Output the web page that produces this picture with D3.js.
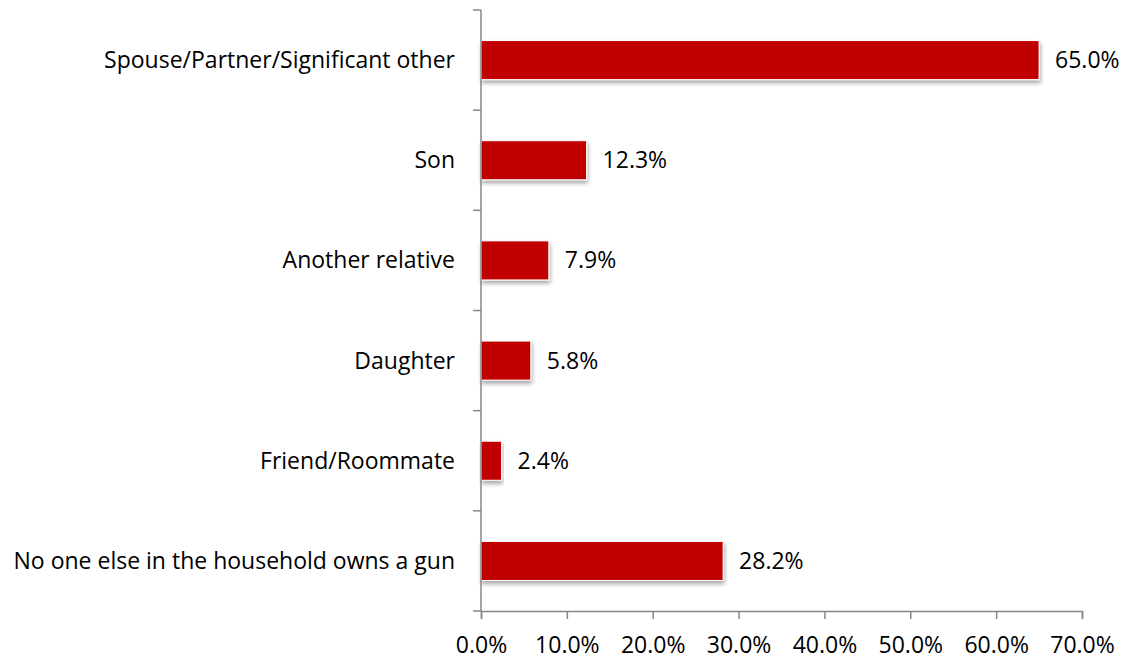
<!DOCTYPE html>
<html>
<head>
<meta charset="utf-8">
<script src="https://cdn.jsdelivr.net/npm/d3@7"></script>
<style>
  html, body { margin: 0; padding: 0; background: #fff; }
  svg text { font-family: "Open Sans", "Noto Sans", sans-serif; fill: #000; }
</style>
</head>
<body>
<svg id="chart" width="1125" height="660"></svg>
<script>
// Who else in the household owns a gun (share of respondents)
const categories = [
  "Spouse/Partner/Significant other",
  "Son",
  "Another relative",
  "Daughter",
  "Friend/Roommate",
  "No one else in the household owns a gun"
];
const values = [65.0, 12.3, 7.9, 5.8, 2.4, 28.2];
const tickValues = [0, 10, 20, 30, 40, 50, 60, 70];

const svg = d3.select("#chart");
const margin = { left: 481, right: 43, top: 10, bottom: 49 };
const width = 1125, height = 660;
const fontSize = 23;

const x = d3.scaleLinear().domain([0, 70]).range([margin.left, width - margin.right]);
const y = d3.scaleBand().domain(categories).range([margin.top, height - margin.bottom]).paddingInner(0.61).paddingOuter(0.305);

// soft shadow under each bar
const defs = svg.append("defs");
const f = defs.append("filter").attr("id", "shadow").attr("x", "-5%").attr("y", "-30%").attr("width", "115%").attr("height", "180%");
f.append("feDropShadow").attr("dx", 1).attr("dy", 3).attr("stdDeviation", 2).attr("flood-color", "#000").attr("flood-opacity", 0.35);

const data = categories.map((c, i) => ({ c, v: values[i] }));

svg.append("g").selectAll("rect").data(data).join("rect")
  .attr("x", x(0))
  .attr("y", d => y(d.c))
  .attr("width", d => x(d.v) - x(0))
  .attr("height", y.bandwidth())
  .attr("fill", "#C00000")
  .attr("stroke", "#fff")
  .attr("stroke-width", 1)
  .attr("filter", "url(#shadow)");

// value labels
svg.append("g").selectAll("text").data(data).join("text")
  .attr("x", d => x(d.v) + 16)
  .attr("y", d => y(d.c) + y.bandwidth() / 2)
  .attr("dy", "0.35em")
  .attr("font-size", fontSize)
  .text(d => d.v.toFixed(1) + "%");

// category labels
svg.append("g").selectAll("text").data(data).join("text")
  .attr("x", x(0) - 26)
  .attr("y", d => y(d.c) + y.bandwidth() / 2)
  .attr("dy", "0.35em")
  .attr("text-anchor", "end")
  .attr("font-size", fontSize)
  .text(d => d.c);

// vertical category axis with ticks on band boundaries
const axisColor = "#868686";
const yTop = margin.top, yBottom = height - margin.bottom;
svg.append("line").attr("x1", x(0)).attr("x2", x(0)).attr("y1", yTop).attr("y2", yBottom)
  .attr("stroke", axisColor).attr("stroke-width", 1.5);
const bounds = d3.range(categories.length + 1).map(i => yTop + i * (yBottom - yTop) / categories.length);
svg.append("g").selectAll("line").data(bounds).join("line")
  .attr("x1", x(0) - 8).attr("x2", x(0))
  .attr("y1", d => d).attr("y2", d => d)
  .attr("stroke", axisColor).attr("stroke-width", 1.5);

// horizontal value axis
const xAxis = d3.axisBottom(x).tickValues(tickValues).tickFormat(d => d.toFixed(1) + "%").tickSize(8).tickPadding(18);
const gx = svg.append("g").attr("transform", `translate(0,${yBottom})`).call(xAxis);
gx.select(".domain").attr("stroke", axisColor).attr("stroke-width", 1.5);
gx.selectAll(".tick line").attr("stroke", axisColor).attr("stroke-width", 1.5);
gx.selectAll(".tick text").attr("font-size", fontSize).attr("font-family", "\"Open Sans\", sans-serif").attr("fill", "#000");
</script>
</body>
</html>
